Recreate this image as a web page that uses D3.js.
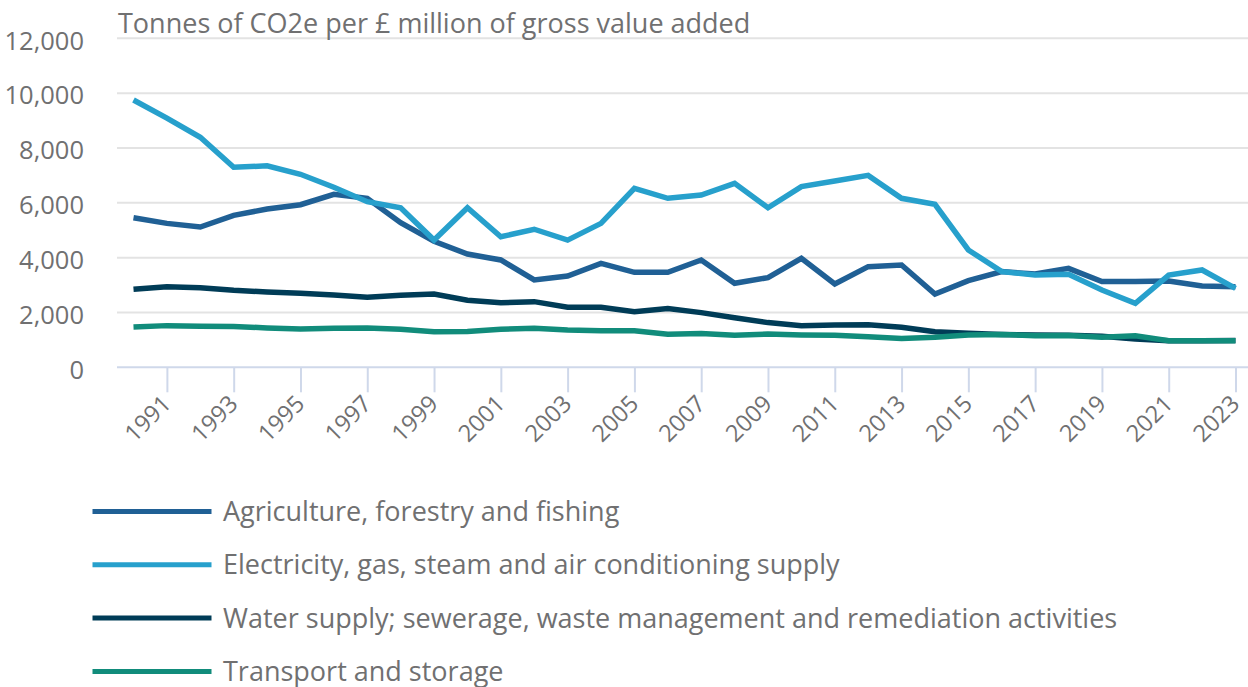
<!DOCTYPE html>
<html><head><meta charset="utf-8">
<script src="https://cdn.jsdelivr.net/npm/d3@7"></script>
<style>
html,body{margin:0;padding:0;background:#fff;}
svg{display:block;font-family:"Open Sans",sans-serif;}
</style></head>
<body>
<svg id="chart" width="1248" height="687"></svg>
<script>
const years = d3.range(1990, 2024);
const tickYears = d3.range(1991, 2024, 2);
const yTicks = [0, 2000, 4000, 6000, 8000, 10000, 12000];
const seriesNames = [
  "Agriculture, forestry and fishing",
  "Electricity, gas, steam and air conditioning supply",
  "Water supply; sewerage, waste management and remediation activities",
  "Transport and storage"
];
const seriesColors = ["#206095", "#27a0cc", "#003c57", "#118c7b"];
const agriculture = [5455,5250,5115,5540,5775,5930,6310,6165,5275,4595,4130,3915,3185,3330,3790,3465,3465,3915,3065,3270,3975,3040,3670,3730,2675,3160,3490,3400,3610,3125,3125,3150,2965,2940];
const electricity = [9750,9090,8390,7295,7350,7040,6565,6040,5820,4640,5820,4760,5035,4640,5250,6530,6165,6285,6710,5820,6590,6795,7000,6165,5945,4280,3490,3365,3390,2820,2335,3365,3550,2880];
const water = [2845,2940,2905,2810,2745,2700,2635,2555,2625,2675,2445,2355,2395,2190,2190,2030,2140,1995,1810,1630,1520,1545,1550,1460,1300,1240,1200,1180,1170,1130,1030,970,970,975];
const transport = [1470,1520,1495,1490,1435,1400,1420,1435,1385,1300,1310,1385,1420,1360,1335,1335,1205,1230,1165,1215,1180,1165,1115,1055,1095,1180,1200,1150,1160,1095,1150,970,970,970];
const seriesValues = [agriculture, electricity, water, transport];

const svg = d3.select("#chart");
const textColor = "#707071";
const x = d3.scaleLinear().domain([1990, 2023]).range([133.5, 1235.5]);
const y = d3.scaleLinear().domain([0, 12000]).range([367.3, 38.3]);

// gridlines
svg.append("g").selectAll("line").data(yTicks.filter(d => d > 0)).join("line")
  .attr("x1", 117).attr("x2", 1248)
  .attr("y1", d => y(d)).attr("y2", d => y(d))
  .attr("stroke", "#e3e3e3").attr("stroke-width", 2);

// y axis labels
const yAxis = svg.append("g").attr("transform", "translate(84,0)")
  .call(d3.axisLeft(y).tickValues(yTicks).tickSize(0).tickPadding(0).tickFormat(d3.format(",")));
yAxis.select(".domain").remove();
yAxis.selectAll("text").attr("fill", textColor).style("font-size", "25.5px").style("font-family", "'Open Sans',sans-serif").attr("dy", "0.42em");

// x axis
const xAxis = svg.append("g").attr("transform", `translate(0,${y(0)})`)
  .call(d3.axisBottom(x).tickValues(tickYears).tickSize(25).tickFormat(d3.format("d")));
xAxis.select(".domain").attr("d", `M117,0H1248`).attr("stroke", "#cfd8ea").attr("stroke-width", 2);
xAxis.selectAll(".tick line").attr("stroke", "#cfd8ea").attr("stroke-width", 2);
xAxis.selectAll("text")
  .attr("fill", textColor).style("font-size", "23.5px").style("font-family", "'Open Sans',sans-serif")
  .attr("text-anchor", "end").attr("dy", null).attr("y", 0)
  .attr("transform", "translate(5,38) rotate(-45)");

// title
svg.append("text").attr("x", 118).attr("y", 33)
  .attr("fill", textColor).style("font-size", "27px").text("Tonnes of CO2e per £ million of gross value added");

// lines
const line = d3.line().x((d, i) => x(years[i])).y(d => y(d));
seriesValues.forEach((vals, k) => {
  svg.append("path").datum(vals).attr("d", line)
    .attr("fill", "none").attr("stroke", seriesColors[k]).attr("stroke-width", 5.5)
    .attr("stroke-linejoin", "miter").attr("stroke-linecap", "butt");
});

// legend
const leg = svg.append("g");
seriesNames.forEach((name, k) => {
  const ly = 511.5 + k * 53.3;
  leg.append("line").attr("x1", 92.5).attr("x2", 211.5).attr("y1", ly).attr("y2", ly)
    .attr("stroke", seriesColors[k]).attr("stroke-width", 5);
  leg.append("text").attr("x", 223).attr("y", ly).attr("dy", "0.35em")
    .attr("fill", textColor).style("font-size", "27px").text(name);
});
</script>
</body></html>
